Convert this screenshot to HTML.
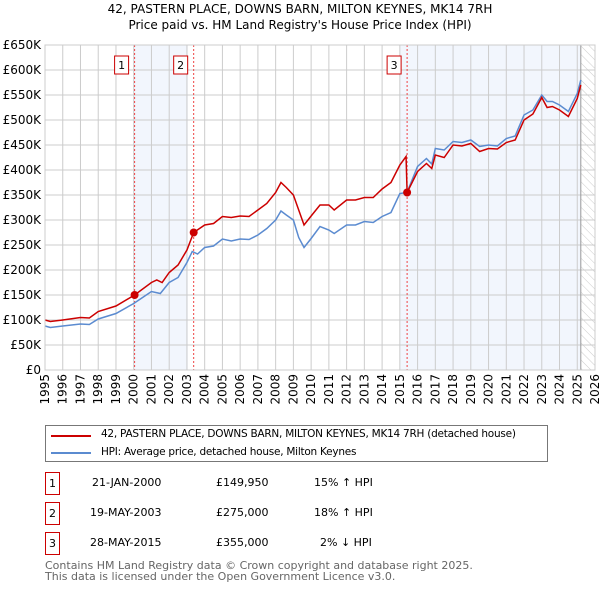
<!DOCTYPE html>
<html><head><meta charset="utf-8"><style>
body{margin:0;background:#fff;font-family:"Liberation Sans","DejaVu Sans",sans-serif;}
#wrap{position:relative;width:600px;height:590px;overflow:hidden;}
svg text{font-family:"DejaVu Sans","Liberation Sans",sans-serif;}
.row{position:absolute;font-size:11px;color:#000;font-family:"DejaVu Sans",sans-serif;white-space:nowrap;}
.mk{position:absolute;border:1px solid #c00;width:13px;height:21px;text-align:center;line-height:21px;font-size:11px;font-family:"DejaVu Sans",sans-serif;}
</style></head><body><div id="wrap">
<svg id="chart" width="600" height="420" style="position:absolute;left:0;top:0">
<defs><pattern id="hatch" width="6" height="6" patternUnits="userSpaceOnUse" patternTransform="rotate(-45)"><line x1="0" y1="0" x2="0" y2="6" stroke="#ccc" stroke-width="1"/></pattern></defs>
<text x="300" y="13" text-anchor="middle" font-size="12">42, PASTERN PLACE, DOWNS BARN, MILTON KEYNES, MK14 7RH</text>
<text x="300" y="29" text-anchor="middle" font-size="12">Price paid vs. HM Land Registry's House Price Index (HPI)</text>
<g id="g"></g>
</svg>
<div style="position:absolute;left:45px;top:425px;width:501px;height:35px;border:1px solid #777;">
<div style="position:absolute;left:5px;top:9px;width:40px;height:2px;background:#c00"></div>
<div class="row" style="left:55px;top:2px;font-size:10.5px;letter-spacing:-0.25px">42, PASTERN PLACE, DOWNS BARN, MILTON KEYNES, MK14 7RH (detached house)</div>
<div style="position:absolute;left:5px;top:26px;width:40px;height:2px;background:#5b8bd0"></div>
<div class="row" style="left:55px;top:20px;font-size:10.5px;letter-spacing:-0.25px">HPI: Average price, detached house, Milton Keynes</div>
</div>
<div class="mk" style="left:45px;top:472px">1</div>
<div class="row" style="left:92px;top:476px">21-JAN-2000</div>
<div class="row" style="left:216px;top:476px">£149,950</div>
<div class="row" style="left:314px;top:476px">15% ↑ HPI</div>
<div class="mk" style="left:45px;top:502px">2</div>
<div class="row" style="left:90px;top:506px">19-MAY-2003</div>
<div class="row" style="left:216px;top:506px">£275,000</div>
<div class="row" style="left:314px;top:506px">18% ↑ HPI</div>
<div class="mk" style="left:45px;top:532px">3</div>
<div class="row" style="left:90px;top:536px">28-MAY-2015</div>
<div class="row" style="left:216px;top:536px">£355,000</div>
<div class="row" style="left:320px;top:536px">2% ↓ HPI</div>
<div class="row" style="left:45px;top:560px;color:#666;line-height:11px">Contains HM Land Registry data © Crown copyright and database right 2025.<br>This data is licensed under the Open Government Licence v3.0.</div>
</div>
<script>
const yTicks=[0,50,100,150,200,250,300,350,400,450,500,550,600,650];
const years=[1995,1996,1997,1998,1999,2000,2001,2002,2003,2004,2005,2006,2007,2008,2009,2010,2011,2012,2013,2014,2015,2016,2017,2018,2019,2020,2021,2022,2023,2024,2025,2026];
const hpiT=[1995,1995.3,1996,1997,1997.5,1998,1999,2000,2000.5,2001,2001.5,2002,2002.5,2003,2003.3,2003.6,2004,2004.5,2005,2005.5,2006,2006.5,2007,2007.5,2008,2008.3,2008.6,2009,2009.3,2009.6,2010,2010.5,2011,2011.3,2012,2012.5,2013,2013.5,2014,2014.5,2015,2015.4,2016,2016.5,2016.8,2017,2017.5,2018,2018.5,2019,2019.5,2020,2020.5,2021,2021.5,2022,2022.5,2023,2023.3,2023.6,2024,2024.5,2025,2025.2];
const hpiV=[88,85,88,92,91,102,113,133,145,157,153,175,185,215,237,232,245,248,262,258,262,261,270,283,300,318,310,300,265,245,263,287,280,273,290,290,297,295,307,315,353,355,407,423,412,443,440,457,455,460,447,450,448,463,468,510,520,550,537,537,530,517,553,580];
const ppT=[1995,1995.3,1996,1997,1997.5,1998,1999,2000.05,2001,2001.3,2001.6,2002,2002.5,2003,2003.38,2004,2004.5,2005,2005.5,2006,2006.5,2007,2007.5,2008,2008.3,2008.6,2009,2009.3,2009.6,2010,2010.5,2011,2011.3,2012,2012.5,2013,2013.5,2014,2014.5,2015,2015.35,2015.41,2016,2016.5,2016.8,2017,2017.5,2018,2018.5,2019,2019.5,2020,2020.5,2021,2021.5,2022,2022.5,2023,2023.3,2023.6,2024,2024.5,2025,2025.2];
const ppV=[100,97,100,105,104,117,128,150,175,180,175,195,210,240,275,290,293,307,305,308,307,320,333,355,375,365,350,320,290,308,330,330,320,340,340,345,345,362,375,410,427,355,397,413,403,430,425,450,448,453,437,443,442,455,460,500,512,545,525,527,520,507,543,570];
const sales=[[2000.05,150,"1"],[2003.38,275,"2"],[2015.41,355,"3"]];
const X=y=>45+(y-1995)*(550/31), Y=v=>370-v*0.5;
const g=document.getElementById('g'),NS='http://www.w3.org/2000/svg';
function mk(t,a){const e=document.createElementNS(NS,t);for(const k in a)e.setAttribute(k,a[k]);g.appendChild(e);return e;}
let e;
e=mk('rect',{x:X(2000),y:45,width:X(2003.05)-X(2000),height:325,fill:'#f2f6fd'});


e=mk('rect',{x:X(2015.0),y:45,width:X(2025.2)-X(2015.0),height:325,fill:'#f2f6fd'});


e=mk('rect',{x:X(2025.2),y:45,width:595-X(2025.2),height:325,fill:'url(#hatch)'});


yTicks.forEach(v=>{e=mk('line',{x1:45,x2:595,y1:Y(v),y2:Y(v),stroke:'#ccc'});


e=mk('text',{x:41,y:Y(v)+4,'text-anchor':'end','font-size':12});e.textContent=v?'£'+v+'K':'£0';

});
years.forEach(y=>{e=mk('line',{x1:X(y),x2:X(y),y1:45,y2:370,stroke:'#ccc'});


e=mk('text',{x:0,y:0,'text-anchor':'end','font-size':12,transform:`translate(${X(y)+4},374) rotate(-90)`});e.textContent=y;

});
e=mk('line',{x1:X(2025.2),x2:X(2025.2),y1:45,y2:370,stroke:'#999'});


sales.forEach(s=>{e=mk('line',{x1:X(s[0]),x2:X(s[0]),y1:45,y2:370,stroke:'#e44','stroke-dasharray':'2,2','stroke-width':1});


e=mk('rect',{x:X(s[0])-20,y:56,width:14,height:18,fill:'#fff',stroke:'#c00'});


e=mk('text',{x:X(s[0])-13,y:69,'text-anchor':'middle','font-size':11});e.textContent=s[2];

});
e=mk('polyline',{points:hpiT.map((t,i)=>X(t)+','+Y(hpiV[i])).join(' '),fill:'none',stroke:'#5b8bd0','stroke-width':1.5});


e=mk('polyline',{points:ppT.map((t,i)=>X(t)+','+Y(ppV[i])).join(' '),fill:'none',stroke:'#c00','stroke-width':1.5});


sales.forEach(s=>{e=mk('circle',{cx:X(s[0]),cy:Y(s[1]),r:4,fill:'#c00'});

});
e=mk('rect',{x:45,y:45,width:550,height:325,fill:'none',stroke:'#ccc'});


</script>
</body></html>
